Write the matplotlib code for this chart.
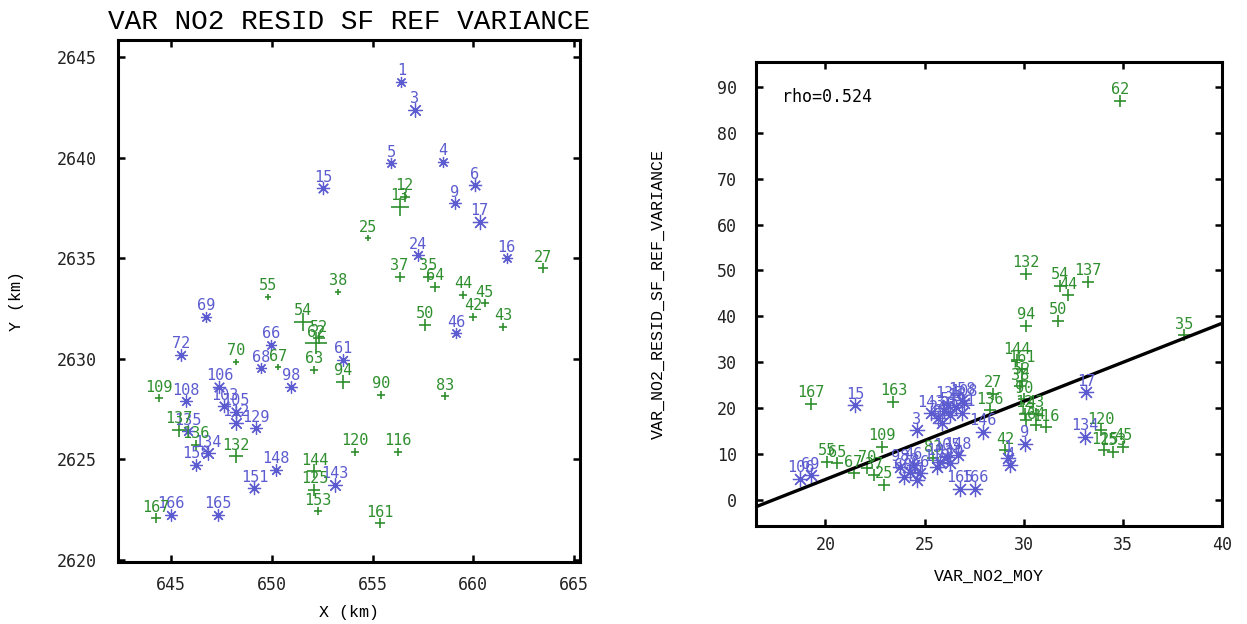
import numpy as np
import matplotlib
matplotlib.use("Agg")
from matplotlib import pyplot as plt

# --- left panel: station map (x km, y km), group b=blue asterisk, g=green plus
left_labels = ["1", "3", "5", "4", "6", "9", "17", "24", "16", "46", "15", "61",
               "143", "148", "151", "165", "166", "134", "158", "135", "108", "106",
               "103", "105", "112", "129", "98", "68", "66", "69", "72",
               "12", "13", "25", "27", "37", "35", "64", "44", "45", "42", "43",
               "50", "94", "90", "83", "120", "116", "161", "144", "125", "153",
               "167", "132", "137", "136", "109", "70", "67", "63", "54", "62",
               "52", "38", "55"]
left_x = [656.43, 657.09, 655.93, 658.50, 660.07, 659.08, 660.32, 657.25, 661.65, 659.16,
          652.53, 653.52, 653.11, 650.21, 649.13, 647.30, 644.98, 646.81, 646.23, 645.81,
          645.73, 647.39, 647.64, 648.22, 648.22, 649.21, 650.96, 649.46, 649.96, 646.72,
          645.48,
          656.59, 656.34, 654.77, 663.47, 656.34, 657.75, 658.08, 659.50, 660.57, 659.99,
          661.49, 657.59, 653.52, 655.43, 658.58, 654.10, 656.26, 655.35, 652.11, 652.11,
          652.28, 644.24, 648.22, 645.40, 646.23, 644.40, 648.22, 650.29, 652.11, 651.53,
          652.20, 652.36, 653.27, 649.79]
left_y = [2643.77, 2642.37, 2639.72, 2639.80, 2638.64, 2637.73, 2636.82, 2635.16, 2635.00,
          2631.27, 2638.48, 2629.95, 2623.74, 2624.48, 2623.57, 2622.25, 2622.25, 2625.31,
          2624.73, 2626.39, 2627.88, 2628.62, 2627.63, 2627.38, 2626.81, 2626.56, 2628.62,
          2629.53, 2630.69, 2632.10, 2630.20,
          2638.06, 2637.56, 2635.99, 2634.50, 2634.09, 2634.09, 2633.59, 2633.18, 2632.76,
          2632.10, 2631.60, 2631.69, 2628.87, 2628.21, 2628.13, 2625.39, 2625.39, 2621.83,
          2624.40, 2623.49, 2622.41, 2622.08, 2625.15, 2626.47, 2625.73, 2628.04, 2629.86,
          2629.58, 2629.45, 2631.85, 2630.78, 2631.02, 2633.34, 2633.09]
left_group = ["b"] * 31 + ["g"] * 34
# relative marker weight (bigger cross = bigger variance)
left_weight = [4, 7, 4, 4, 6, 5, 8, 5, 4, 4, 6, 5, 7, 5, 6, 5, 5, 7, 5, 5, 5, 6, 6, 6, 7,
               5, 5, 4, 4, 4, 5,
               6, 14, 4, 7, 6, 6, 7, 5, 5, 5, 5, 8, 10, 5, 5, 5, 5, 6, 11, 9, 5, 7, 10,
               10, 6, 5, 4, 4, 5, 14, 19, 8, 4, 4]

# --- right panel: VAR_NO2_MOY vs VAR_NO2_RESID_SF_REF_VARIANCE
right_labels = ["62", "132", "54", "137", "44", "94", "50", "35", "144", "161", "27",
                "38", "90", "52", "136", "12", "43", "13", "64", "116", "120", "125",
                "153", "45", "42", "55", "65", "70", "67", "25", "37", "109", "83",
                "167", "163",
                "15", "17", "158", "134", "9", "1", "4", "165", "166", "148", "3",
                "106", "69", "98", "72", "61", "68", "66", "46", "103", "105", "112",
                "129", "5", "6", "24", "16", "151", "143", "135", "108", "63", "146"]
right_x = [34.87, 30.13, 31.81, 33.23, 32.23, 30.10, 31.72, 38.09, 29.64, 29.89, 28.47,
           29.80, 30.00, 29.90, 28.30, 30.05, 30.60, 30.13, 30.64, 31.14, 33.91, 34.07,
           34.49, 35.00, 29.05, 20.08, 20.59, 22.10, 21.42, 22.93, 22.43, 22.85, 25.44,
           19.25, 23.43,
           21.51, 33.15, 26.90, 33.07, 30.05, 29.21, 29.30, 26.78, 27.54, 26.70, 24.60,
           18.74, 19.25, 23.77, 24.27, 24.60, 23.94, 24.77, 24.44, 25.78, 26.11, 25.61,
           26.28, 26.00, 26.30, 25.70, 26.60, 26.90, 25.30, 26.20, 27.00, 25.90, 27.96]
right_y = [87.0, 49.3, 46.7, 47.5, 44.6, 38.0, 39.1, 35.9, 30.4, 28.6, 23.2,
           24.8, 22.0, 26.0, 19.6, 18.8, 18.8, 17.4, 16.3, 15.9, 15.2, 10.9,
           10.5, 11.6, 10.9, 8.3, 8.0, 6.9, 5.8, 3.3, 5.4, 11.6, 9.1,
           21.0, 21.4,
           20.6, 23.5, 21.7, 13.8, 12.3, 9.1, 7.6, 2.5, 2.5, 9.8, 15.2,
           4.7, 5.4, 7.2, 6.2, 4.3, 5.1, 5.8, 7.6, 8.3, 9.4, 7.2,
           8.0, 19.5, 18.5, 17.8, 20.3, 19.0, 18.9, 20.8, 21.2, 16.8, 14.9]
right_group = ["g"] * 35 + ["b"] * 33

fit_slope = 1.70
fit_intercept = -29.5
rho = 0.524

BLUE = "#5c5cd0"
GREEN = "#2f8f2f"
ASTER = (8, 2, 0)
MONO = "DejaVu Sans Mono"
COURIER = "Liberation Mono"


def draw_points(ax, xs, ys, labels, groups, sizes):
    for x, y, lab, g, s in zip(xs, ys, labels, groups, sizes):
        col = BLUE if g == "b" else GREEN
        if g == "b":
            ax.plot(x, y, linestyle="none", marker=ASTER, markersize=s + 3,
                    color=col, markeredgewidth=0.9)
        else:
            ax.plot(x, y, linestyle="none", marker="+", markersize=s,
                    color=col, markeredgewidth=1.2)
        ax.annotate(lab, (x, y), xytext=(0, 11), textcoords="offset pixels",
                    ha="center", va="center", color=col, fontsize=11, family=MONO)


def style_axes(ax, xpad, ypad):
    for sp in ax.spines.values():
        sp.set_linewidth(2.2)
    ax.tick_params(direction="in", length=5, width=1.8, top=True, right=True,
                   labelsize=12)
    ax.tick_params(axis="x", pad=xpad)
    ax.tick_params(axis="y", pad=ypad)
    for t in ax.get_xticklabels() + ax.get_yticklabels():
        t.set_family(MONO)
        t.set_color("#222222")


fig = plt.figure(figsize=(12.47, 6.24), dpi=100)

# left map
ax1 = fig.add_axes([0.0946, 0.0994, 0.3705, 0.8365])
draw_points(ax1, left_x, left_y, left_labels, left_group,
            [w * 0.75 + 2 for w in left_weight])
ax1.set_xlim(642.35, 665.3)
ax1.set_ylim(2619.9, 2645.85)
ax1.set_xticks([645, 650, 655, 660, 665])
ax1.set_yticks([2620, 2625, 2630, 2635, 2640, 2645])
style_axes(ax1, 10, 15)
ax1.text(0.5, 1.035, "VAR NO2 RESID SF REF VARIANCE", transform=ax1.transAxes,
         ha="center", va="center", fontsize=20, family=COURIER)
ax1.set_xlabel("X (km)", family=COURIER, fontsize=12)
ax1.set_ylabel("Y (km)", family=COURIER, fontsize=12)
ax1.xaxis.set_label_coords(0.5, -0.082)
ax1.yaxis.set_label_coords(-0.203, 0.5)

# right scatter
ax2 = fig.add_axes([0.6063, 0.157, 0.3737, 0.7436])
draw_points(ax2, right_x, right_y, right_labels, right_group, [8] * len(right_x))
ax2.set_xlim(16.5, 40)
ax2.set_ylim(-5.65, 95.4)
xs = np.array(ax2.get_xlim())
ax2.plot(xs, fit_slope * xs + fit_intercept, color="black", linewidth=2.4)
ax2.set_xticks([20, 25, 30, 35, 40])
ax2.set_yticks(np.arange(0, 100, 10))
style_axes(ax2, 7, 14)
ax2.text(0.056, 0.925, f"rho={rho:.3f}", transform=ax2.transAxes, ha="left",
         va="center", fontsize=12, family=MONO)
ax2.set_xlabel("VAR_NO2_MOY", family=COURIER, fontsize=12)
ax2.set_ylabel("VAR_NO2_RESID_SF_REF_VARIANCE", family=COURIER, fontsize=12)
ax2.xaxis.set_label_coords(0.5, -0.093)
ax2.yaxis.set_label_coords(-0.193, 0.5)

fig.savefig("out.png", dpi=100)
